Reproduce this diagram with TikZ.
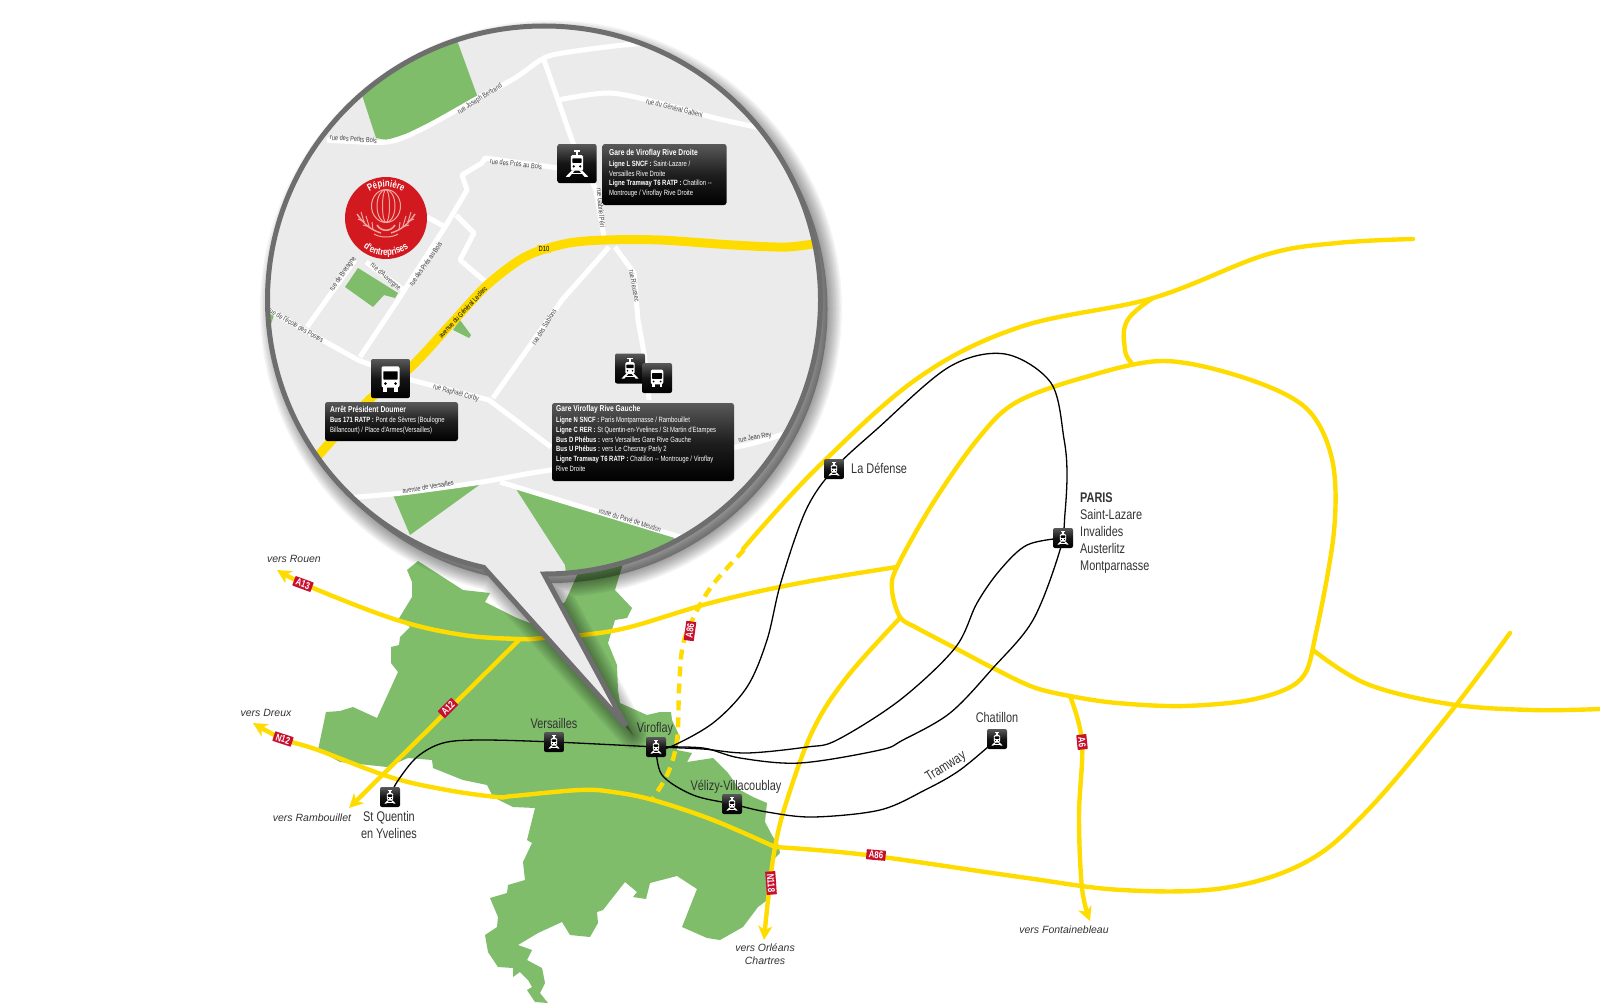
\documentclass[tikz,border=0pt]{standalone}
\usepackage{fontspec}
\setmainfont{Liberation Sans}
\newfontfamily\cond[FakeStretch=0.78]{Liberation Sans}
\usetikzlibrary{arrows.meta,decorations.text}
\definecolor{mapgreen}{HTML}{7FBD6B}
\definecolor{roady}{HTML}{FFDC00}
\definecolor{tagred}{HTML}{C8102E}
\definecolor{mapgrey}{HTML}{EBEBEB}
\definecolor{rimgrey}{HTML}{6E6E6E}
\definecolor{logored}{HTML}{D2191F}
\definecolor{logopink}{HTML}{F2A6A0}
\definecolor{inktext}{HTML}{333333}
\tikzset{
  road/.style={draw=roady,line width=4.4pt,line cap=round,line join=round},
  arrowroad/.style={road,-{Stealth[length=14pt,width=14pt,inset=4pt]}},
  metro/.style={draw=black,line width=1.3pt},
  street/.style={draw=white,line width=5pt,line join=round},
  patch/.style={fill=mapgreen},
  roadtag/.style={fill=tagred,text=white,font=\cond\bfseries\fontsize{10}{10}\selectfont,inner xsep=2.5pt,inner ysep=1.5pt,rounded corners=.5pt},
  stationbox/.style={rounded corners=2pt,top color=black!65,bottom color=black,middle color=black!92,minimum size=#1,inner sep=0pt},
  stationlabel/.style={text=inktext,font=\cond\fontsize{14}{17}\selectfont,inner sep=0pt,align=center},
  towards/.style={text=inktext,font=\itshape\fontsize{10.5}{12.5}\selectfont,inner sep=0pt,align=center},
  streetname/.style={text=black!75,font=\cond\fontsize{7.2}{7.2}\selectfont,inner sep=0pt},
  infocard/.style={rounded corners=2.5pt,top color=black!65,bottom color=black,middle color=black!88,inner sep=0pt},
  cardtext/.style={text=white,anchor=north west,inner sep=0pt,align=left,font=\cond\fontsize{7.6}{9.8}\selectfont},
  trainpic/.pic={
    \fill[white] (-.08,-.78) rectangle (.08,-.45);
    \fill[white] (-.2,-.78) rectangle (.2,-.7);
    \fill[white,rounded corners=1.5pt] (-.36,-.5) rectangle (.36,.42);
    \fill[black,rounded corners=.6pt] (-.27,-.3) rectangle (.27,-.03);
    \fill[black] (-.19,.17) circle (.07);
    \fill[black] (.19,.17) circle (.07);
    \fill[white] (-.3,.4)--(-.12,.4)--(-.44,.78)--(-.66,.78)--cycle;
    \fill[white] (.3,.4)--(.12,.4)--(.44,.78)--(.66,.78)--cycle;
    \fill[white] (-.4,.56) rectangle (.4,.63);
  },
  buspic/.pic={
    \fill[white,rounded corners=2pt] (-.5,-.68) rectangle (.5,.5);
    \fill[black,rounded corners=.6pt] (-.4,-.4) rectangle (.4,.06);
    \fill[black] (-.28,.28) circle (.08);
    \fill[black] (.28,.28) circle (.08);
    \fill[white] (-.42,.45) rectangle (-.2,.75);
    \fill[white] (.42,.45) rectangle (.2,.75);
  }
}
\def\bubble{(544,574) arc[start angle=90,end angle=-257.4,x radius=276.5,y radius=274] -- (626,726) -- cycle}
\begin{document}
\begin{tikzpicture}[x=1pt,y=-1pt]
\useasboundingbox (0,0) rectangle (1600,1006);
\fill[white] (0,0) rectangle (1600,1006);

% territory
\fill[patch] (418,561)--(463,590)--(490,593)--(485,602)--(517,618)--(530,623)--(565,602)--(583,562)--(624,560)--(615,590)--(632,608)--(627,618)--(615,620)--(608,643)--(617,665)--(618,690)--(620,703)--(647,715)--(660,712)--(671,712)--(672,720)--(680,737)--(677,750)--(692,753)--(687,762)--(713,758)--(728,773)--(740,790)--(753,797)--(767,803)--(765,822)--(773,837)--(778,843)--(780,853)--(773,860)--(770,898)--(758,907)--(743,927)--(720,940)--(707,938)--(682,927)--(697,889)--(677,876)--(650,883)--(646,899)--(633,897)--(637,892)--(625,882)--(603,910)--(597,912)--(598,923)--(590,937)--(570,935)--(562,922)--(538,933)--(518,945)--(532,950)--(527,960)--(542,968)--(545,983)--(540,993)--(548,1003)--(535,1002)--(527,990)--(532,987)--(528,980)--(520,972)--(513,977)--(513,968)--(498,967)--(488,952)--(485,935)--(497,927)--(498,917)--(490,898)--(507,893)--(508,885)--(525,880)--(523,862)--(532,843)--(527,840)--(535,808)--(513,807)--(493,797)--(487,785)--(463,780)--(433,768)--(432,760)--(408,758)--(387,767)--(340,762)--(318,750)--(326,712)--(340,711)--(353,707)--(377,718)--(398,672)--(391,663)--(391,647)--(399,645)--(400,637)--(410,627)--(398,620)--(412,597)--(412,582)--(407,570)--cycle;

% motorways
\draw[road] plot[smooth,tension=.6] coordinates {(743,549) (816,469) (918,378) (1020,327) (1153,298) (1265,255) (1337,243) (1413,239)};
\draw[road] plot[smooth,tension=.7] coordinates {(1153,298) (1127,321) (1125,350) (1131,362)};
\draw[road] plot[smooth cycle,tension=.55] coordinates {(897,567) (933,503) (977,440) (1015,403) (1082,378) (1163,361) (1245,378) (1306,408) (1332,459) (1334,531) (1316,633) (1301,679) (1255,699) (1184,706) (1117,703) (1070,696) (1033,687) (993,668) (955,648) (917,628) (900,617) (892,590)};
\draw[road] plot[smooth,tension=.6] coordinates {(1313,650) (1367,684) (1449,704) (1531,710) (1600,709)};
\draw[road] plot[smooth,tension=.6] coordinates {(775,847) (867,855) (1020,877) (1122,890) (1224,888) (1306,862) (1367,811) (1449,714) (1510,633)};
\draw[arrowroad] plot[smooth,tension=.6] coordinates {(897,567) (800,583) (714,602) (630,627) (583,635) (543,638) (520,639) (463,635) (397,620) (313,588) (277,570)};
\draw[arrowroad] (520,639) -- (349,808);
\draw[arrowroad] plot[smooth,tension=.6] coordinates {(775,847) (713,820) (653,800) (613,792) (580,790) (513,796) (497,797) (447,790) (390,777) (318,750) (283,739) (253,723)};
\draw[arrowroad] plot[smooth,tension=.6] coordinates {(900,618) (847,677) (813,730) (787,800) (775,847) (768,900) (764,940)};
\draw[arrowroad] plot[smooth,tension=.6] coordinates {(1070,696) (1082,742) (1079,816) (1082,888) (1090,921)};
\draw[road,line cap=butt,dash pattern=on 10pt off 7pt] plot[smooth,tension=.6] coordinates {(744,550) (711,587) (690,625) (682,650) (679,690) (677,740) (668,773) (653,798)};

% stations (positions)
\coordinate (pSQ) at (390,797);
\coordinate (pVE) at (554,742);
\coordinate (pVI) at (656,747);
\coordinate (pVV) at (732,804);
\coordinate (pLD) at (834,469);
\coordinate (pPA) at (1063,538);
\coordinate (pCH) at (997,739);

% rail lines
\draw[metro] plot[smooth,tension=.55] coordinates {(pSQ) (397,782) (417,757) (443,743) (480,740) (pVE) (pVI)};
\draw[metro] plot[smooth,tension=.55] coordinates {(pVI) (703,749) (747,753) (807,747) (837,740) (900,700) (955,648) (977,603) (1000,570) (1027,545) (pPA)};
\draw[metro] plot[smooth,tension=.55] coordinates {(pVI) (703,748) (740,758) (800,763) (880,750) (903,740) (950,713) (993,668) (1033,620) (1060,550) (1065,513) (1067,473) (1064,439) (1051,383) (1005,354) (949,367) (877,429) (pLD) (806,510) (781,582) (767,640) (747,687) (713,723) (670,747) (pVI)};
\draw[metro] plot[smooth,tension=.55] coordinates {(pVI) (662,775) (693,795) (pVV) (767,812) (813,817) (880,810) (925,790) (960,770) (pCH)};

% stations
\foreach \nm/\pt in {SQ/pSQ,VE/pVE,VI/pVI,VV/pVV,LD/pLD,PA/pPA,CH/pCH}{
  \node[stationbox=20pt] (\nm) at (\pt) {};
  \pic[scale=8.5] at (\pt) {trainpic};
}

% road tags
\node[roadtag,rotate=-20] (tagAa) at (303,584) {A13};
\node[roadtag,rotate=45] (tagAb) at (448,708) {A12};
\node[roadtag,rotate=-18] (tagNa) at (283,739) {N12};
\node[roadtag,rotate=-86] (tagNb) at (771,883) {N118};
\node[roadtag,rotate=-5] (tagAc) at (876,855) {A86};
\node[roadtag,rotate=82] (tagAd) at (690,631) {A86};
\node[roadtag,rotate=-84] (tagAe) at (1082,742) {A6};

% labels
\node[towards] (lRouen) at (294,559) {vers Rouen};
\node[towards] (lDreux) at (266,713) {vers Dreux};
\node[towards] (lRamb) at (312,818) {vers Rambouillet};
\node[towards] (lOrl) at (765,954) {vers Orléans\\Chartres};
\node[towards] (lFont) at (1064,930) {vers Fontainebleau};
\node[stationlabel] (lSQ) at (389,824.5) {St Quentin\\en Yvelines};
\node[stationlabel] (lVE) at (554,723) {Versailles};
\node[stationlabel] (lVI) at (655,729) {Viroflay};
\node[stationlabel] (lVV) at (736,787) {Vélizy-Villacoublay};
\node[stationlabel] (lCH) at (997,717) {Chatillon};
\node[stationlabel,rotate=32] (lTR) at (946,767) {Tramway};
\node[stationlabel,anchor=west] (lLD) at (851,468) {La Défense};
\node[stationlabel,anchor=north west,align=left] (lPA) at (1080,493) {\textbf{PARIS}\\Saint-Lazare\\Invalides\\Austerlitz\\Montparnasse};

% bubble shadow
\foreach \w in {2,5,8,11,14,17,20,23,26,29}{
  \draw[shift={(7,9)},draw=black,draw opacity=.045,line width=\w pt,line join=round] \bubble;
}
\fill[shift={(7,9)},black,fill opacity=.3] \bubble;

% bubble
\fill[mapgrey] \bubble;
\begin{scope}
\clip \bubble;
% parks
\fill[patch] (458,43)--(478,98)--(424,128)--(387,140)--(376,138)--(362,95)--(340,60)--(440,5)--cycle;
\fill[patch] (358,268)--(398,293)--(395,298)--(384,295)--(373,307)--(345,287)--cycle;
\fill[patch] (460,320)--(471,335)--(469,338)--(453,330)--cycle;
\fill[patch] (260,300)--(275,312)--(271,324)--(260,324)--cycle;
\fill[patch] (393,495)--(482,483)--(410,535)--cycle;
\fill[patch] (516,489)--(675,537)--(650,610)--(570,610)--(565,565)--cycle;
% streets
\draw[street] plot[smooth,tension=.5] coordinates {(327,140) (387,142) (424,128) (478,98) (515,78) (544,58) (569,52) (624,45) (670,42)};
\draw[street] (544,60)--(573,143)--(596,190)--(604,237);
\draw[street] plot[smooth,tension=.5] coordinates {(558,100) (609,93) (660,103) (715,118) (765,129)};
\draw[street] (558,168)--(485,158)--(482,163)--(462,175)--(467,190)--(445,227)--(398,300)--(360,357);
\draw[street] (456,215)--(474,233)--(460,260)--(487,283);
\draw[street] (427,217)--(445,227);
\draw[street] (355,260)--(307,327);
\draw[street] (366,262)--(405,291);
\draw[street] (265,308)--(358,360)--(411,380)--(489,400)--(551,447);
\draw[street] (609,247)--(562,300)--(493,398);
\draw[street] (615,247)--(634,273)--(638,320)--(644,353)--(649,400);
\draw[street] plot[smooth,tension=.4] coordinates {(345,498) (402,493) (482,482) (551,470) (736,447) (800,428)};
\draw[street] (500,482)--(690,540);
% D10
\draw[draw=roady,line width=9pt,line join=round] plot[smooth,tension=.5] coordinates {(825,242) (787,247) (733,245) (660,240) (605,240) (569,243) (536,252) (515,263) (485,287) (449,326) (411,367) (369,400) (310,465)};
\node[fill=roady,inner xsep=1.5pt,inner ysep=1pt,font=\cond\fontsize{7.5}{7.5}\selectfont] (dten) at (544,249) {D10};
% street names
\node[streetname,rotate=-4] (n1) at (353.5,139) {rue des Petits Bois};
\node[streetname,rotate=32] (n2) at (480,99) {rue Joseph Bertrand};
\node[streetname,rotate=-14] (n3) at (674.5,108) {rue du Général Gallieni};
\node[streetname,rotate=-6] (n4) at (516,164) {rue des Prés au Bois};
\node[streetname,rotate=-85] (n5) at (601,208) {rue Gabriel Péri};
\node[streetname,rotate=55] (n6) at (343,274) {rue de Bretagne};
\node[streetname,rotate=-42] (n7) at (385.5,277) {rue d'Auvergne};
\node[streetname,rotate=55] (n8) at (425.5,264) {rue des Prés au Bois};
\node[streetname,rotate=-80] (n9) at (634.5,286) {rue Rieussec};
\node[streetname,rotate=47,text=black] (n10) at (463,312) {avenue du Général Leclerc};
\node[streetname,rotate=-30] (n11) at (296,325) {rue de l'école des Postes};
\node[streetname,rotate=58] (n12) at (544,327) {rue des Sablons};
\node[streetname,rotate=-15] (n13) at (456,393) {rue Raphaël Corby};
\node[streetname,rotate=10] (n14) at (755,438) {rue Jean Rey};
\node[streetname,rotate=9] (n15) at (428,487) {avenue de Versailles};
\node[streetname,rotate=-17] (n16) at (630,520) {route du Pavé de Meudon};
\end{scope}
% rim
\draw[rimgrey,line width=5pt,miter limit=4] \bubble;

% logo
\node[circle,fill=logored,minimum size=82pt,inner sep=0pt] (logo) at (386,218) {};
\begin{scope}[draw=logopink,line width=1pt]
\draw (386,206) ellipse [x radius=14.5,y radius=16.5];
\draw (386,206) ellipse [x radius=9,y radius=16.5];
\draw (386,206) ellipse [x radius=3.5,y radius=16.5];
\draw[line width=1.4pt] (357,214) .. controls (365,226) and (372,230) .. (381,233);
\draw[line width=1.4pt] (415,214) .. controls (407,226) and (400,230) .. (391,233);
\draw (361,212)--(364,222) (366,216)--(369,226) (372,222)--(373,230) (358,219)--(365,222) (363,225)--(370,227);
\draw (411,212)--(408,222) (406,216)--(403,226) (400,222)--(399,230) (414,219)--(407,222) (409,225)--(402,227);
\draw[line width=1.6pt] (377,225) .. controls (381,232) and (391,232) .. (395,225);
\draw (374,234) .. controls (380,238) and (392,238) .. (398,234);
\end{scope}
\begin{scope}[shift={(386,218)},y=1pt]
\path[decorate,decoration={text along path,text align=center,text={|\cond\bfseries\color{white}\fontsize{10}{10}\selectfont|Pépinière}}] (-31,0) arc[start angle=180,end angle=0,radius=31];
\path[decorate,decoration={text along path,text align=center,text={|\cond\bfseries\color{white}\fontsize{10}{10}\selectfont|d'entreprises}}] (-37.5,0) arc[start angle=180,end angle=360,radius=37.5];
\end{scope}

% map stops
\node[stationbox=39pt] (gareD) at (577,163.5) {};
\pic[scale=17] at (gareD.center) {trainpic};
\node[stationbox=30pt] (gareGt) at (630,368.5) {};
\pic[scale=13] at (gareGt.center) {trainpic};
\node[stationbox=30pt] (gareGb) at (657,378) {};
\pic[scale=12.5] at (gareGb.center) {buspic};
\node[stationbox=39pt] (arret) at (390.5,378.5) {};
\pic[scale=18] at (arret.center) {buspic};

% info cards
\node[infocard,minimum width=124pt,minimum height=61pt] (cardA) at (664.5,174.5) {};
\node[cardtext] (txtA) at (609,149.5) {{\bfseries\fontsize{8.6}{11}\selectfont Gare de Viroflay Rive Droite}\\[.6pt]{\bfseries Ligne L SNCF :} Saint-Lazare /\\Versailles Rive Droite\\{\bfseries Ligne Tramway T6 RATP :} Chatillon --\\Montrouge / Viroflay Rive Droite};
\node[infocard,minimum width=133pt,minimum height=39pt] (cardB) at (391.5,421.5) {};
\node[cardtext] (txtB) at (330,405.5) {{\bfseries\fontsize{8.6}{11}\selectfont Arrêt Président Doumer}\\[.6pt]{\bfseries Bus 171 RATP :} Pont de Sèvres (Boulogne\\Billancourt) / Place d'Armes(Versailles)};
\node[infocard,minimum width=182pt,minimum height=78pt] (cardC) at (643,442) {};
\node[cardtext] (txtC) at (556,405.5) {{\bfseries\fontsize{8.6}{11}\selectfont Gare Viroflay Rive Gauche}\\[.8pt]{\bfseries Ligne N SNCF :} Paris Montparnasse / Rambouillet\\{\bfseries Ligne C RER :} St Quentin-en-Yvelines / St Martin d'Etampes\\{\bfseries Bus D Phébus :} vers Versailles Gare Rive Gauche\\{\bfseries Bus U Phébus :} vers Le Chesnay Parly 2\\{\bfseries Ligne Tramway T6 RATP :} Chatillon -- Montrouge / Viroflay\\Rive Droite};
\end{tikzpicture}
\end{document}
